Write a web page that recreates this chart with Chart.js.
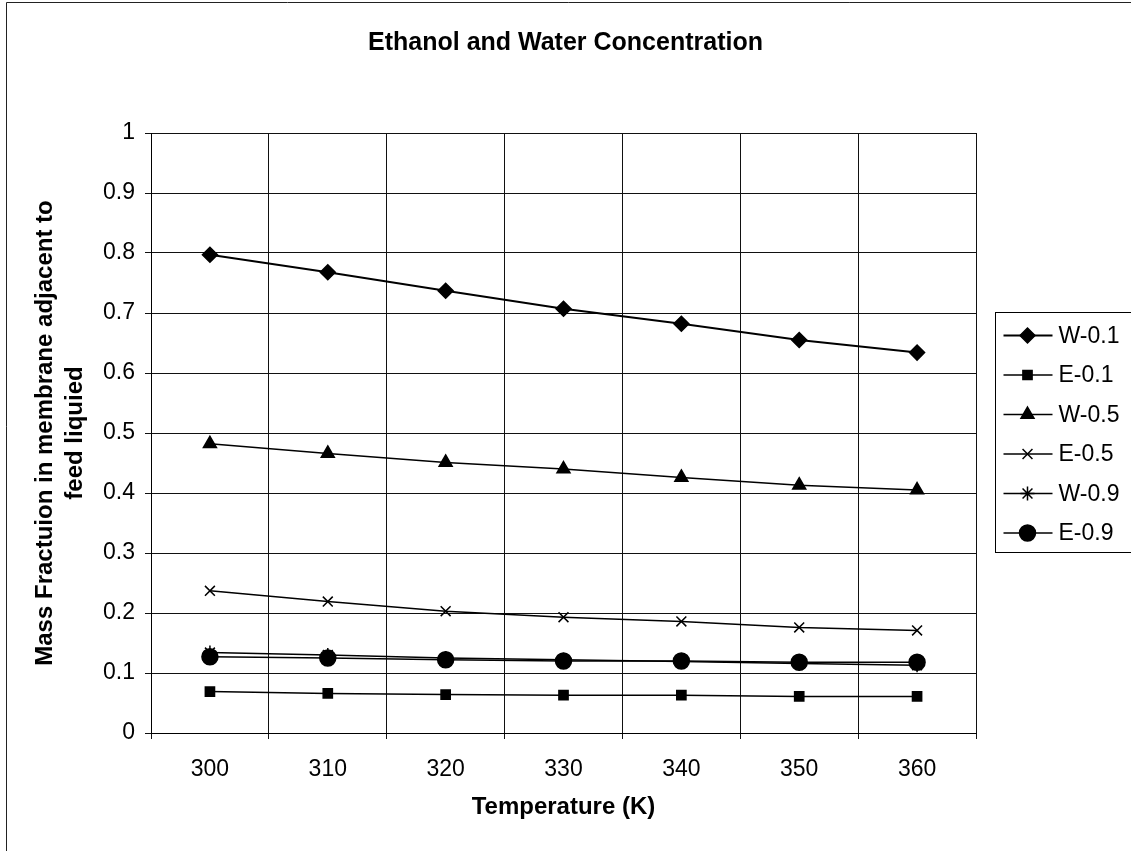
<!DOCTYPE html>
<html>
<head>
<meta charset="utf-8">
<script src="https://cdn.jsdelivr.net/npm/chart.js@4/dist/chart.umd.min.js"></script>
<style>
  html, body { margin: 0; padding: 0; background: #fff; }
  #wrap { width: 1131px; height: 851px; position: relative; }
</style>
</head>
<body>
<div id="wrap"><canvas id="chart"></canvas></div>
<script>
// Data
const temps = ['300', '310', '320', '330', '340', '350', '360'];
const seriesNames = ['W-0.1', 'E-0.1', 'W-0.5', 'E-0.5', 'W-0.9', 'E-0.9'];
const w01 = [0.797, 0.768, 0.737, 0.707, 0.682, 0.655, 0.634];
const e01 = [0.069, 0.066, 0.064, 0.063, 0.063, 0.061, 0.061];
const w05 = [0.482, 0.466, 0.451, 0.440, 0.426, 0.413, 0.405];
const e05 = [0.237, 0.219, 0.203, 0.193, 0.186, 0.176, 0.171];
const w09 = [0.134, 0.130, 0.125, 0.122, 0.119, 0.116, 0.113];
const e09 = [0.127, 0.125, 0.122, 0.120, 0.120, 0.118, 0.118];

const FONT = "'Liberation Sans', Arial, sans-serif";

function makeSeries(label, data, style, radius, lineWidth, order) {
  return {
    label: label,
    data: data,
    borderColor: '#000',
    backgroundColor: '#000',
    borderWidth: lineWidth,
    pointStyle: style,
    pointRadius: radius,
    pointHoverRadius: radius,
    pointBackgroundColor: '#000',
    pointBorderColor: '#000',
    pointBorderWidth: 1.5,
    tension: 0,
    fill: false,
    order: order
  };
}

// Outer frame of the chart area (left and top edge visible in scan)
const frame = {
  id: 'frame',
  beforeDraw(chart) {
    const ctx = chart.ctx;
    ctx.save();
    ctx.fillStyle = '#fff';
    ctx.fillRect(0, 0, chart.width, chart.height);
    ctx.strokeStyle = '#222';
    ctx.lineWidth = 1;
    ctx.beginPath();
    ctx.moveTo(6.5, chart.height);
    ctx.lineTo(6.5, 2.5);
    ctx.lineTo(chart.width, 2.5);
    ctx.stroke();
    ctx.restore();
  }
};

// Legend box with line + marker samples, like the Excel legend
const legendBox = {
  id: 'legendBox',
  afterDraw(chart) {
    const ctx = chart.ctx;
    const x0 = chart.chartArea.right + 19.5;
    const y0 = 312.5;
    const w = 140, h = 240;
    ctx.save();
    ctx.strokeStyle = '#000';
    ctx.lineWidth = 1;
    ctx.strokeRect(x0, y0, w, h);
    ctx.font = '23px ' + FONT;
    ctx.textBaseline = 'middle';
    ctx.fillStyle = '#000';
    chart.data.datasets.forEach((ds, i) => {
      const y = y0 + 23 + i * 39.5;
      ctx.strokeStyle = '#000';
      ctx.lineWidth = ds.borderWidth;
      ctx.beginPath();
      ctx.moveTo(x0 + 8, y);
      ctx.lineTo(x0 + 57, y);
      ctx.stroke();
      ctx.fillStyle = '#000';
      ctx.lineWidth = ds.pointBorderWidth;
      if (Chart.helpers && Chart.helpers.drawPoint) {
        Chart.helpers.drawPoint(ctx, {
          pointStyle: ds.pointStyle,
          radius: ds.pointRadius,
          borderWidth: ds.pointBorderWidth,
          rotation: 0
        }, x0 + 32, y);
      } else {
        ctx.fillRect(x0 + 27, y - 5, 10, 10);
      }
      ctx.fillStyle = '#000';
      ctx.fillText(ds.label, x0 + 63, y + 1);
    });
    ctx.restore();
  }
};

const datasets = [
  makeSeries(seriesNames[0], w01, 'rectRot', 7.5, 2, 1),
  makeSeries(seriesNames[1], e01, 'rect', 6.5, 1.5, 1),
  makeSeries(seriesNames[2], w05, 'triangle', 7.5, 1.5, 1),
  makeSeries(seriesNames[3], e05, 'crossRot', 7, 1.5, 1),
  makeSeries(seriesNames[4], w09, 'star', 7, 1.5, 1),
  makeSeries(seriesNames[5], e09, 'circle', 8, 1.5, 0)
];

new Chart(document.getElementById('chart'), {
  type: 'line',
  data: { labels: temps, datasets: datasets },
  options: {
    responsive: true,
    maintainAspectRatio: false,
    animation: false,
    layout: { padding: 0 },
    plugins: {
      legend: { display: false },
      tooltip: { enabled: false },
      title: {
        display: true,
        text: 'Ethanol and Water Concentration',
        color: '#000',
        font: { family: FONT, size: 25, weight: 'bold' },
        padding: { top: 28, bottom: 75 }
      }
    },
    scales: {
      x: {
        type: 'category',
        offset: true,
        grid: { display: true, offset: true, color: '#111', lineWidth: 1, tickLength: 6, tickColor: '#111' },
        border: { display: true, color: '#000', width: 1 },
        ticks: { color: '#000', font: { family: FONT, size: 23 }, padding: 17, maxRotation: 0 },
        title: {
          display: true,
          text: 'Temperature (K)',
          color: '#000',
          font: { family: FONT, size: 24, weight: 'bold' },
          padding: { top: 0, bottom: 29 }
        },
        afterFit: s => { s.height = 118; }
      },
      y: {
        min: 0,
        max: 1,
        grid: { color: '#111', lineWidth: 1, tickLength: 6, tickColor: '#111' },
        border: { display: true, color: '#000', width: 1 },
        ticks: {
          stepSize: 0.1,
          color: '#000',
          font: { family: FONT, size: 23 },
          padding: 10,
          callback: v => String(Math.round(v * 10) / 10)
        },
        title: {
          display: true,
          text: ['Mass Fractuion in membrane adjacent to', 'feed liquied'],
          color: '#000',
          font: { family: FONT, size: 24, weight: 'bold', lineHeight: 1.25 },
          padding: { top: 30, bottom: 0 }
        },
        afterFit: s => { s.width = 151; }
      },
      yRight: {
        position: 'right',
        display: true,
        grid: { display: false },
        border: { display: false },
        ticks: { display: false },
        afterFit: s => { s.width = 155; }
      }
    }
  },
  plugins: [frame, legendBox]
});
</script>
</body>
</html>
